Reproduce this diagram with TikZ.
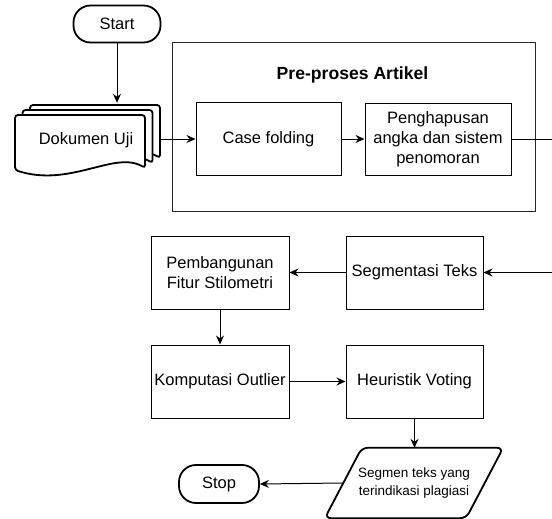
\documentclass[tikz,border=0pt]{standalone}
\usepackage{fontspec}
\setmainfont{Liberation Sans}
\usetikzlibrary{arrows.meta}
\begin{document}
\begin{tikzpicture}[x=1pt,y=-1pt,
  box/.style={draw, line width=1pt, align=center, inner sep=2pt,
    font=\fontsize{16.5}{20}\selectfont},
  term/.style={draw, line width=1.8pt, rounded corners=17pt, inner sep=0pt,
    font=\fontsize{16.5}{19}\selectfont},
  arr/.style={-{Stealth[length=9pt,width=8pt,inset=3pt]}, line width=1pt},
  docpage/.style={draw, line width=1.8pt, fill=white, rounded corners=3pt}
]
\useasboundingbox (0,0) rectangle (552,519);
\clip (0,0) rectangle (552,519);

% Start
\node[term, minimum width=87pt, minimum height=37pt] (start) at (117,24) {Start};

% Multi-document
\foreach \dx/\dy in {15/-10, 7.5/-5, 0/0}{
  \draw[docpage] (15+\dx,170+\dy) -- (15+\dx,115+\dy) -- (145+\dx,115+\dy) -- (145+\dx,168+\dy)
    .. controls (115+\dx,150+\dy) and (70+\dx,188+\dy) .. (15+\dx,170+\dy) -- cycle;
}
\node[minimum width=145pt, minimum height=70pt, inner sep=0pt] (doc) at (87.5,138) {};
\node[font=\fontsize{16.5}{19}\selectfont] (doclabel) at (86,140) {Dokumen Uji};

% Pre-proses container
\node[draw, line width=1pt, draw=black!85, minimum width=363pt, minimum height=168pt] (pre) at (353.5,127) {};
\node[font=\bfseries\fontsize{17.6}{20}\selectfont] (title) at (352.5,75) {Pre-proses Artikel};

\node[box, minimum width=145pt, minimum height=72pt] (cf) at (268.5,139) {Case folding};
\node[box, minimum width=146pt, minimum height=72pt] (ph) at (438,139.5) {Penghapusan\\angka dan sistem\\penomoran};

% lower boxes
\node[box, minimum width=137pt, minimum height=73pt] (seg) at (414.5,272.5) {Segmentasi Teks};
\node[box, minimum width=138pt, minimum height=73pt] (pfs) at (220,272.5) {Pembangunan\\Fitur Stilometri};
\node[box, minimum width=138pt, minimum height=73pt] (ko) at (220,381.5) {Komputasi Outlier};
\node[box, minimum width=137pt, minimum height=73pt] (hv) at (414.5,381.5) {Heuristik Voting};

% output parallelogram
\node[minimum width=141pt, minimum height=70pt, inner sep=0pt, align=center,
  font=\fontsize{13.5}{18}\selectfont] (out) at (414,483) {Segmen teks yang\\terindikasi plagiasi};
\draw[line width=1.8pt, rounded corners=6pt]
  ([xshift=-18.5pt]out.south west) -- ([xshift=18.5pt]out.north west)
  -- ([xshift=18.5pt]out.north east) -- ([xshift=-18.5pt]out.south east) -- cycle;

% Stop
\node[term, minimum width=80pt, minimum height=38pt] (stop) at (219,484) {Stop};

% connectors
\coordinate (r1) at (575,139.5);
\draw[arr] (start.south) -- (start.south |- doc.north);
\draw[arr] (doc.east |- cf.west) -- (cf.west);
\draw[arr] (cf.east) -- (ph.west |- cf.east);
\draw[arr] (ph.east) -- (r1) |- (seg.east);
\draw[arr] (seg.west) -- (pfs.east);
\draw[arr] (pfs.south) -- (ko.north);
\draw[arr] (ko.east) -- (hv.west);
\draw[arr] (hv.south) -- (hv.south |- out.north);
\draw[arr] (out.west) -- (stop.east);
\end{tikzpicture}
\end{document}
